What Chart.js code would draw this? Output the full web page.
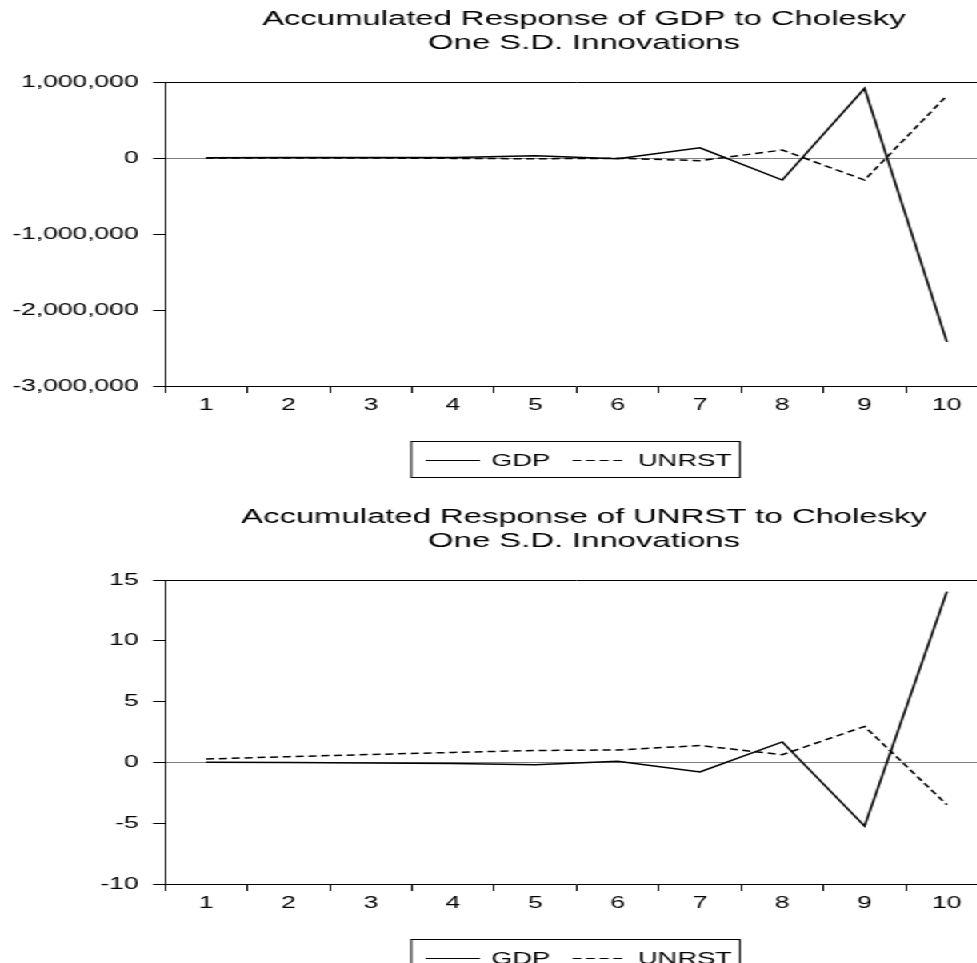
<!DOCTYPE html>
<html><head><meta charset="utf-8">
<script src="https://cdn.jsdelivr.net/npm/chart.js@4.4.1/dist/chart.umd.min.js"></script>
<style>
html,body{margin:0;padding:0;background:#fff;overflow:hidden;width:977px;height:963px;}
#wrap{position:absolute;left:0;top:0;width:630px;height:963px;transform:scaleX(1.6);transform-origin:0 0;}
canvas{position:absolute;left:0;}
</style></head><body>
<div id="wrap">
<canvas id="c1" width="630" height="498" style="top:0;width:630px;height:498px"></canvas>
<canvas id="c2" width="630" height="465" style="top:498px;width:630px;height:465px"></canvas>
</div>
<script>
// ---- data ----
const periods = ['1','2','3','4','5','6','7','8','9','10'];
const seriesNames = ['GDP','UNRST'];
const gdpRespGdp   = [4000, 6000, 8000, 6000, 30000, -10000, 135000, -290000, 917000, -2420000];
const gdpRespUnrst = [0, 0, 0, -5000, -10000, -4000, -35000, 105000, -290000, 820000];
const unrstRespGdp   = [0.02, 0.0, -0.05, -0.1, -0.19, 0.09, -0.79, 1.68, -5.24, 14.05];
const unrstRespUnrst = [0.28, 0.47, 0.65, 0.82, 0.98, 1.02, 1.39, 0.63, 2.96, -3.48];
const yTicksTop = [-3000000, -2000000, -1000000, 0, 1000000];
const yTicksBottom = [-10, -5, 0, 5, 10, 15];
const titleTop = ['Accumulated Response of GDP to Cholesky', 'One S.D. Innovations'];
const titleBottom = ['Accumulated Response of UNRST to Cholesky', 'One S.D. Innovations'];

// ---- rendering ----
const S = 1.6;               // horizontal stretch of the page
const FONT = '"Liberation Sans", Arial, sans-serif';
const DASH = [5, 3];

function decorPlugin(lines) {
  return {
    id: 'decor',
    beforeDraw(chart) {
      const c = chart.ctx;
      c.save(); c.fillStyle = '#fff'; c.fillRect(0, 0, chart.width, chart.height); c.restore();
    },
    afterDraw(chart) {
      const c = chart.ctx, a = chart.chartArea;
      c.save();
      c.strokeStyle = '#000'; c.lineWidth = 1;
      c.beginPath();
      c.moveTo(a.left, a.top + 0.5); c.lineTo(a.right, a.top + 0.5); c.lineTo(a.right, a.bottom);
      c.stroke();
      // titles
      c.fillStyle = '#000';
      c.font = '20.5px ' + FONT;
      c.textAlign = 'center'; c.textBaseline = 'middle';
      const cx = 584 / S;
      lines.forEach((t, i) => c.fillText(t, cx, 19 + 24 * i));
      // legend
      c.font = '17px ' + FONT;
      const ds = chart.data.datasets;
      const padL = 9, sample = 34, gap = 7, between = 14, padR = 5;
      let w = padL + padR;
      ds.forEach((d, i) => { w += sample + gap + c.measureText(d.label).width + (i ? between : 0); });
      const bx = 575.5 / S - w / 2, by = 441, bh = 36;
      c.lineWidth = 1; c.strokeStyle = '#000';
      c.strokeRect(bx, by + 0.5, w, bh);
      let x = bx + padL; const ly = by + 19;
      c.textAlign = 'left';
      ds.forEach((d, i) => {
        if (i) x += between;
        c.setLineDash(d.borderDash ? [5.5, 3] : []);
        c.lineWidth = 1.2;
        c.beginPath(); c.moveTo(x, ly + 0.5); c.lineTo(x + sample, ly + 0.5); c.stroke();
        c.setLineDash([]);
        x += sample + gap;
        c.fillText(d.label, x, ly + 1);
        x += c.measureText(d.label).width;
      });
      c.restore();
    }
  };
}

function bottomSpace(id) {
  const h = id === 'c1' ? 498 : 465;
  return h - 386;
}

function makeChart(id, s1, s2, ticks, lines) {
  return new Chart(document.getElementById(id), {
    type: 'line',
    data: {
      labels: periods,
      datasets: [
        { label: seriesNames[0], data: s1, borderColor: '#000', borderWidth: 1.5, pointRadius: 0, tension: 0, fill: false },
        { label: seriesNames[1], data: s2, borderColor: '#000', borderWidth: 1.5, borderDash: DASH, pointRadius: 0, tension: 0, fill: false }
      ]
    },
    options: {
      responsive: false, animation: false, devicePixelRatio: 1,
      layout: { padding: { top: 82, left: 0, right: 630 - 988 / S, bottom: 0 } },
      plugins: { legend: { display: false }, title: { display: false }, tooltip: { enabled: false } },
      scales: {
        x: {
          type: 'category', offset: true,
          grid: { offset: true, drawOnChartArea: false, drawTicks: true, tickLength: 7, tickColor: '#000', lineWidth: 1 },
          border: { display: true, color: '#000', width: 1 },
          ticks: { color: '#000', font: { family: FONT, size: 16.5 }, padding: 3, maxRotation: 0, autoSkip: false },
          afterFit(sc) { sc.height = bottomSpace(id); }
        },
        y: {
          min: ticks[0], max: ticks[ticks.length - 1],
          afterBuildTicks(sc) { sc.ticks = ticks.map(v => ({ value: v })); },
          afterFit(sc) { sc.width = 165 / S; },
          grid: {
            drawOnChartArea: true, drawTicks: true, tickLength: 7.5, tickColor: '#000',
            color: (ctx) => (ctx.tick && ctx.tick.value === 0) ? '#808080' : 'rgba(0,0,0,0)',
            lineWidth: 1
          },
          border: { display: true, color: '#000', width: 1 },
          ticks: {
            color: '#000', font: { family: FONT, size: 16.5 }, padding: 9,
            callback: (v) => Number(v).toLocaleString('en-US')
          }
        }
      }
    },
    plugins: [decorPlugin(lines)]
  });
}

makeChart('c1', gdpRespGdp, gdpRespUnrst, yTicksTop, titleTop);
makeChart('c2', unrstRespGdp, unrstRespUnrst, yTicksBottom, titleBottom);
</script>
</body></html>
